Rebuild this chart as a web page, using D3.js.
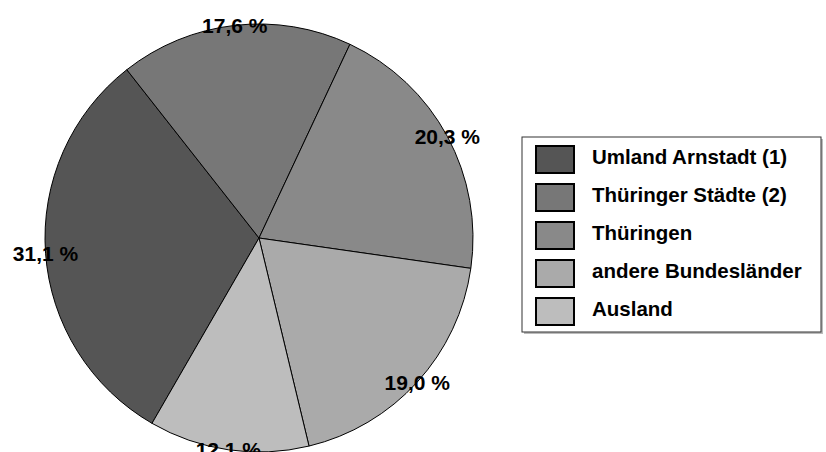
<!DOCTYPE html>
<html>
<head>
<meta charset="utf-8">
<script src="https://cdn.jsdelivr.net/npm/d3@7"></script>
<style>
  html, body { margin: 0; padding: 0; background: #fff; }
  svg { display: block; }
  text { font-family: "Liberation Sans", Arial, Helvetica, sans-serif; font-weight: bold; fill: #000; }
</style>
</head>
<body>
<svg id="chart" width="826" height="452"></svg>
<script>
// Herkunft – Anteile in Prozent
const categories = ["Umland Arnstadt (1)", "Thüringer Städte (2)", "Thüringen", "andere Bundesländer", "Ausland"];
const values = [31.1, 17.6, 20.3, 19.0, 12.1];
const valueLabels = ["31,1 %", "17,6 %", "20,3 %", "19,0 %", "12,1 %"];
const colors = ["#555555", "#777777", "#898989", "#aaaaaa", "#bdbdbd"];

const svg = d3.select("#chart");
const cx = 259, cy = 238, r = 214;
const start = 210 * Math.PI / 180;

const pie = d3.pie().sort(null).value(d => d.v)
  .startAngle(start).endAngle(start + 2 * Math.PI);
const data = pie(values.map((v, i) => ({ v, i })));

const arc = d3.arc().innerRadius(0).outerRadius(r);
const labelArc = d3.arc().innerRadius(r).outerRadius(r);
const color = d3.scaleOrdinal().domain(d3.range(categories.length)).range(colors);

const g = svg.append("g").attr("transform", `translate(${cx},${cy})`);

g.selectAll("path.slice")
  .data(data)
  .join("path")
  .attr("class", "slice")
  .attr("d", arc)
  .attr("fill", d => color(d.data.i))
  .attr("stroke", "#000")
  .attr("stroke-width", 1)
  .attr("stroke-linejoin", "round");

g.selectAll("text.lbl")
  .data(data)
  .join("text")
  .attr("class", "lbl")
  .attr("transform", d => `translate(${labelArc.centroid(d)})`)
  .attr("text-anchor", "middle")
  .attr("dominant-baseline", "central")
  .style("font-size", "21px")
  .text(d => valueLabels[d.data.i]);

// Legende
const lg = svg.append("g");
const box = { x: 522, y: 137, w: 299, h: 195 };
lg.append("rect")
  .attr("x", box.x + 2).attr("y", box.y + 2)
  .attr("width", box.w).attr("height", box.h)
  .attr("fill", "#bbbbbb");
lg.append("rect")
  .attr("x", box.x).attr("y", box.y)
  .attr("width", box.w).attr("height", box.h)
  .attr("fill", "#fff")
  .attr("stroke", "#333")
  .attr("stroke-width", 1);

const rowY = d3.scaleLinear().domain([0, 1]).range([145, 183]);
const items = lg.selectAll("g.item")
  .data(categories)
  .join("g")
  .attr("class", "item")
  .attr("transform", (d, i) => `translate(0,${rowY(i)})`);

items.append("rect")
  .attr("x", 536).attr("y", 1)
  .attr("width", 38).attr("height", 27)
  .attr("fill", (d, i) => color(i))
  .attr("stroke", "#000")
  .attr("stroke-width", 2);

items.append("text")
  .attr("x", 592).attr("y", 19)
  .style("font-size", "20.5px")
  .text(d => d);
</script>
</body>
</html>
